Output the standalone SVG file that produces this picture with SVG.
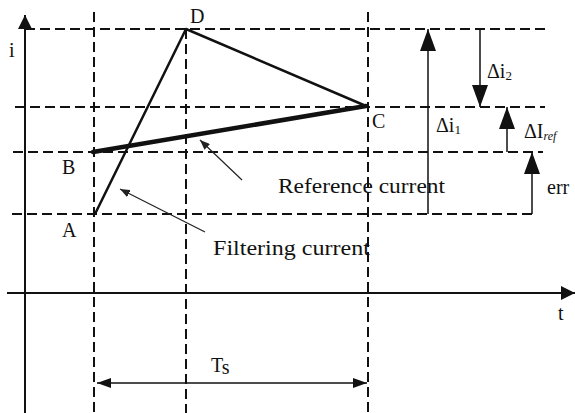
<svg xmlns="http://www.w3.org/2000/svg" width="575" height="413" viewBox="0 0 575 413">
<style>
.dash{stroke:#111;stroke-width:2;stroke-dasharray:10 5;fill:none}
.ax{stroke:#111;stroke-width:2;fill:none}
.ln{stroke:#111;stroke-width:1.5;fill:none}
.cur{stroke:#111;stroke-width:2.5;fill:none;stroke-linejoin:round}
.ptr{stroke:#222;stroke-width:1.2;fill:none}
text{font-family:"Liberation Serif","Times New Roman",serif;font-size:20px;fill:#111}
</style>
<defs>
<marker id="big" viewBox="0 0 22 16" refX="22" refY="8" markerWidth="22" markerHeight="16" markerUnits="userSpaceOnUse" orient="auto"><path d="M0,0 L22,8 L0,16 z" fill="#111"/></marker>
<marker id="mid" viewBox="0 0 14 14" refX="14" refY="7" markerWidth="14" markerHeight="14" markerUnits="userSpaceOnUse" orient="auto"><path d="M0,0 L14,7 L0,14 z" fill="#111"/></marker>
<marker id="ts" viewBox="0 0 14 10" refX="14" refY="5" markerWidth="14" markerHeight="10" markerUnits="userSpaceOnUse" orient="auto-start-reverse"><path d="M0,0 L14,5 L0,10 z" fill="#111"/></marker>
<marker id="sm" viewBox="0 0 10 8" refX="10" refY="4" markerWidth="10" markerHeight="8" markerUnits="userSpaceOnUse" orient="auto"><path d="M0,0 L10,4 L0,8 z" fill="#222"/></marker>
</defs>
<g id="grid">
<path class="dash" d="M25,29 H545 M15,107 H545 M13,152 H543 M12,214 H533"/>
<path class="dash" d="M94,12 V413 M186,29 V413 M368,12 V413"/>
</g>
<g id="axes">
<line class="ax" x1="25" y1="413" x2="25" y2="15" marker-end="url(#mid)"/>
<line class="ax" x1="7" y1="293" x2="575" y2="293" marker-end="url(#mid)"/>
<text x="9" y="57">i</text>
<text x="558" y="320">t</text>
</g>
<g id="currents">
<polyline class="cur" points="95,214 186,29 366,106"/>
<line x1="93" y1="152" x2="366" y2="106" stroke="#111" stroke-width="4.5" stroke-linecap="round"/>
</g>
<g id="points">
<text x="190" y="23">D</text>
<text x="372" y="128">C</text>
<text x="62" y="174">B</text>
<text x="62" y="237">A</text>
</g>
<g id="connectors">
<line class="ln" x1="428" y1="214" x2="428" y2="29" marker-end="url(#big)"/>
<line class="ln" x1="480" y1="29" x2="480" y2="107" marker-end="url(#big)"/>
<line class="ln" x1="507" y1="152" x2="507" y2="107" marker-end="url(#big)"/>
<line class="ln" x1="532" y1="214" x2="532" y2="152" marker-end="url(#big)"/>
<line class="ln" x1="97" y1="383" x2="367" y2="383" marker-start="url(#ts)" marker-end="url(#ts)"/>
<line class="ptr" x1="242" y1="180" x2="200" y2="140" marker-end="url(#sm)"/>
<line class="ptr" x1="205" y1="232" x2="120" y2="189" marker-end="url(#sm)"/>
</g>
<g id="labels">
<text x="487" y="78">Δi<tspan font-size="13" dy="2">2</tspan></text>
<text x="436" y="132">Δi<tspan font-size="13" dy="2">1</tspan></text>
<text x="524" y="138">ΔI<tspan font-size="12" font-style="italic" dy="2">ref</tspan></text>
<text x="547" y="194">err</text>
<text x="278" y="193" textLength="167" lengthAdjust="spacingAndGlyphs">Reference current</text>
<text x="213" y="255" textLength="157" lengthAdjust="spacingAndGlyphs">Filtering current</text>
<text x="211" y="372">T<tspan dy="2">s</tspan></text>
</g>
</svg>
